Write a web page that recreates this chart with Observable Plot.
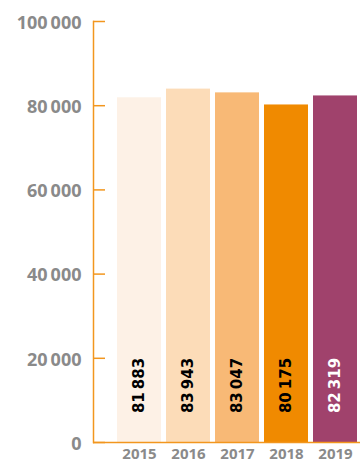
<!DOCTYPE html>
<html>
<head>
<meta charset="utf-8">
<script src="https://cdn.jsdelivr.net/npm/d3@7"></script>
<script src="https://cdn.jsdelivr.net/npm/@observablehq/plot@0.6"></script>
<style>
  html, body { margin: 0; padding: 0; background: #fff; }
  #chart svg { display: block; }
</style>
</head>
<body>
<div id="chart"></div>
<script>
const years = ["2015", "2016", "2017", "2018", "2019"];
const values = [81883, 83943, 83047, 80175, 82319];
const yTicks = [0, 20000, 40000, 60000, 80000, 100000];
const barColors = ["#fdf1e6", "#fcdcb8", "#f8b976", "#f08a00", "#a0426c"];

const data = years.map((year, i) => ({ year, value: values[i], color: barColors[i] }));
const fmt = v => d3.format(",")(v).replace(/,/g, "\u2009");
const axisColor = "#f2961e";
const gray = "#8a8a8a";

const chart = Plot.plot({
  width: 360,
  height: 464,
  marginLeft: 93,
  marginRight: 0,
  marginTop: 21,
  marginBottom: 22,
  style: { background: "#fff" },
  x: { domain: years, paddingInner: 0.106, paddingOuter: 0.264, align: 0.885, label: null },
  y: { domain: [0, 100000], label: null },
  marks: [
    Plot.barY(data, { x: "year", y: "value", fill: d => d.color }),
    Plot.frame({ anchor: "left", stroke: axisColor, strokeWidth: 1.5 }),
    Plot.ruleY([0], { stroke: axisColor, strokeWidth: 1.5 }),
    Plot.axisY(yTicks, { tickSize: 12, dx: 12, tickFormat: () => "", stroke: axisColor, strokeWidth: 1.5 }),
    Plot.axisY(yTicks, {
      tickSize: 0, tickPadding: 12, dy: 1.5, tickFormat: fmt,
      fill: gray, fontSize: 18, fontWeight: "bold", fontFamily: "Open Sans"
    }),
    Plot.axisX({
      tickSize: 0, tickPadding: 6,
      fill: gray, fontSize: 15, fontWeight: "bold", fontFamily: "Open Sans"
    }),
    Plot.text(data, {
      x: "year",
      frameAnchor: "bottom",
      dy: -57,
      text: d => fmt(d.value),
      rotate: -90,
      textAnchor: "middle",
      lineAnchor: "middle",
      fontFamily: "DejaVu Sans",
      fontWeight: "bold",
      fontSize: 15,
      fill: d => d3.lab(d.color).l < 62 ? "#ffffff" : "#000000"
    })
  ]
});
document.getElementById("chart").appendChild(chart);
</script>
</body>
</html>
